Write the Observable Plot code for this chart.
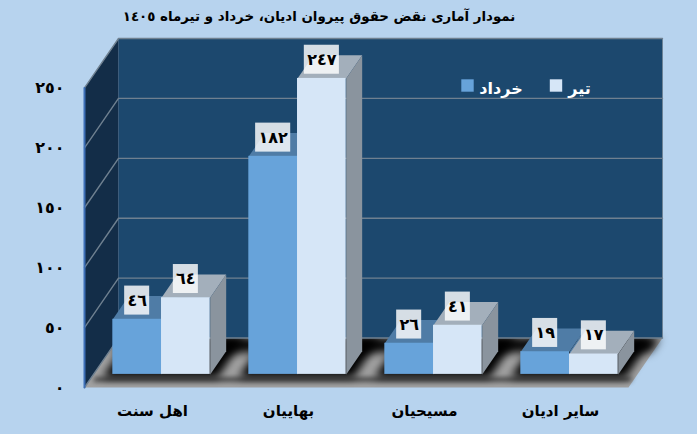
<!DOCTYPE html>
<html lang="fa"><head><meta charset="utf-8">
<script src="https://cdn.jsdelivr.net/npm/d3@7"></script>
<script src="https://cdn.jsdelivr.net/npm/@observablehq/plot@0.6"></script>
<style>html,body{margin:0;padding:0;background:#b7d3ee;overflow:hidden}svg{display:block}</style>
</head><body><div id="c"></div>
<script>
const categories = ["اهل سنت","بهاییان","مسیحیان","سایر ادیان"];
const khordad = [46,182,26,19];
const tir = [64,247,41,17];
const seriesNames = ["خرداد","تیر"];
const yTicks = [0,50,100,150,200,250];
const titleText = "نمودار آماری نقض حقوق پیروان ادیان، خرداد و تیرماه ۱۴۰۵".replace(/[۰-۹]/g,c=>String.fromCharCode(c.charCodeAt(0)-0x6F0+0x660));
const ar = n => String(n).replace(/\d/g,c=>String.fromCharCode(0x660+ +c));

// oblique projection of the 3D box: depth z in 0..1
const depthX = 0.25, depthY = 41.25, z0 = 0.265, z1 = 0.735, barW = 0.358;
const px = (x,z)=>x+depthX*z, py=(v,z)=>v+depthY*z;
const font = "'DejaVu Sans',sans-serif";
const P = (x,v,z,k)=>({x:px(x,z),y:py(v,z),k});
const poly = (f,k)=>f.map(([x,v,z])=>P(x,v,z,k));
const face = (pts,fill,opts={})=>Plot.line(pts,{x:"x",y:"y",z:"k",fill,stroke:"none",curve:"linear",...opts});

const bars = (vals,off)=>vals.map((v,i)=>({v,i,a:i+.5+off,b:i+.5+off+barW}));
const K = bars(khordad,-barW), T = bars(tir,0);
const topFace = r=>poly([[r.a,r.v,z0],[r.b,r.v,z0],[r.b,r.v,z1],[r.a,r.v,z1]],"t"+r.a);
const sideFace = r=>poly([[r.b,0,z0],[r.b,0,z1],[r.b,r.v,z1],[r.b,r.v,z0]],"s"+r.a);
const series = (R,front,top,side)=>[
  face(R.flatMap(topFace),top),
  face(R.flatMap(sideFace),side),
  Plot.rect(R,{x1:r=>px(r.a,z0),x2:r=>px(r.b,z0),y1:r=>py(0,z0),y2:r=>py(r.v,z0),fill:front,inset:0})
];
const labels = (R)=>{
  const D = R.map(r=>({...r,cx:px((r.a+r.b)/2,z0),cy:py(r.v,z0)+15.6,hw:String(r.v).length>2?0.129:0.092}));
  return [
    Plot.rect(D,{x1:d=>d.cx-d.hw,x2:d=>d.cx+d.hw,y1:d=>d.cy-12.1,y2:d=>d.cy+12.1,fill:"#fff",fillOpacity:.82}),
    Plot.text(D,{x:"cx",y:"cy",text:d=>ar(d.v),fontSize:16,fontWeight:"bold",fill:"#000",fontFamily:font})
  ];
};
const wallTop = 250, xEnd = 4;
const chart = Plot.plot({
  width:697,height:434,marginLeft:84,marginRight:35,marginTop:38,marginBottom:47,
  style:{background:"transparent",fontFamily:font},
  x:{domain:[0,xEnd+depthX],axis:null},
  y:{domain:[0,wallTop+depthY],axis:null},
  marks:[
    // floor
    face(poly([[0,0,0],[xEnd,0,0],[xEnd,0,1],[0,0,1]],"floor"),"#a2a2a2"),
    // floor shadow
    face(poly([[0.03,0,.12],[xEnd-.02,0,.12],[xEnd-.02,0,.2],[0.03,0,.2]],"strip"),"#333",{imageFilter:"blur(2.5px)"}),
    face(poly([[0.03,0,.72],[xEnd-.02,0,.72],[xEnd-.02,0,1],[0.03,0,1]],"band"),"#000",{imageFilter:"blur(5px)"}),
    face(categories.flatMap((c,i)=>poly([[i+.5-barW-.06,0,.2],[i+.5+barW+.07,0,.2],[i+.5+barW+.07,0,1],[i+.5-barW-.06,0,1]],"sh"+i)),"#000",{imageFilter:"blur(4.5px)"}),
    // back wall
    face(poly([[0,0,1],[xEnd,0,1],[xEnd,wallTop,1],[0,wallTop,1]],"back"),"#1c486e"),
    // left wall
    face(poly([[0,0,0],[0,0,1],[0,wallTop,1],[0,wallTop,0]],"left"),"#132d48"),
    // grid
    Plot.line(yTicks.flatMap(t=>poly([[0,t,0],[0,t,1],[xEnd,t,1]],"g"+t)),{x:"x",y:"y",z:"k",stroke:"#6f8090",strokeWidth:1.4}),
    Plot.line(poly([[0,0,0],[0,wallTop,0]],"edge"),{x:"x",y:"y",z:"k",stroke:"#3d6fb6",strokeWidth:2}),
    Plot.line(poly([[xEnd,0,1],[xEnd,wallTop,1]],"edge2"),{x:"x",y:"y",z:"k",stroke:"#6f8090",strokeWidth:.8}),
    ...series(K,"#67a3da","#4f7ca6","#4f7ca6"),
    ...series(T,"#d6e6f7","#a3afbb","#8a949e"),
    ...labels(K),...labels(T),
    // axes
    Plot.axisY({ticks:yTicks,tickSize:0,tickPadding:20,tickFormat:ar,fontSize:16,fontWeight:"bold",fill:"#000",fontFamily:font,label:null}),
    Plot.axisX({ticks:categories.map((c,i)=>i+.5),tickSize:0,tickPadding:18,tickFormat:v=>categories[Math.floor(v)],fontSize:15,fontWeight:"bold",fill:"#000",fontFamily:font,label:null}),
    // title
    Plot.text([titleText],{text:d=>d,frameAnchor:"top-left",textAnchor:"middle",dx:234.5,dy:-27,fontSize:13.4,fontWeight:"bold",fill:"#000",fontFamily:font}),
    // legend
    Plot.dot([seriesNames[0]],{frameAnchor:"top-left",dx:383,dy:47,symbol:"square",r:7,fill:"#67a3da"}),
    Plot.text([seriesNames[0]],{text:d=>d,frameAnchor:"top-left",textAnchor:"middle",dx:416.5,dy:44,fontSize:16,fontWeight:"bold",fill:"#fff",fontFamily:font}),
    Plot.dot([seriesNames[1]],{frameAnchor:"top-left",dx:471.5,dy:47,symbol:"square",r:7,fill:"#d6e6f7"}),
    Plot.text([seriesNames[1]],{text:d=>d,frameAnchor:"top-left",textAnchor:"middle",dx:495,dy:44,fontSize:16,fontWeight:"bold",fill:"#fff",fontFamily:font})
  ]
});
document.getElementById("c").append(chart);
</script></body></html>
